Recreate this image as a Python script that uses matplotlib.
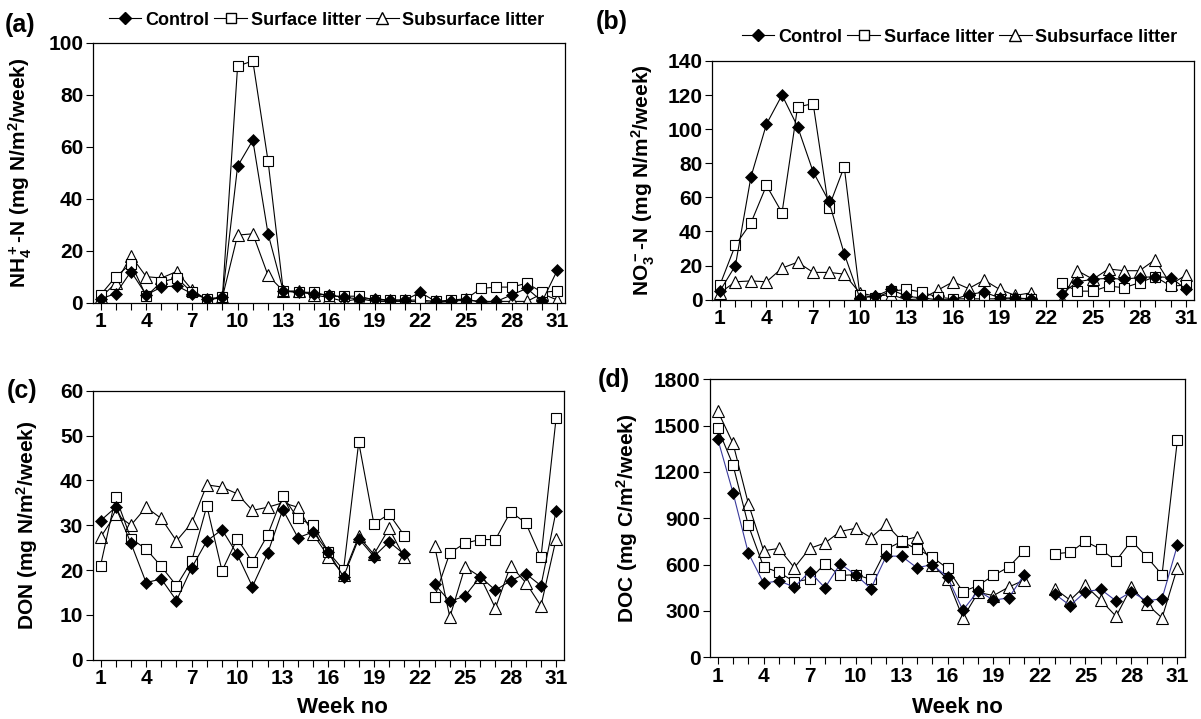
import numpy as np
import matplotlib.pyplot as plt
from matplotlib.lines import Line2D

plt.rcParams['font.family'] = 'Liberation Sans'
plt.rcParams['font.weight'] = 'bold'
plt.rcParams['mathtext.fontset'] = 'custom'
plt.rcParams['mathtext.rm'] = 'Liberation Sans:bold'
plt.rcParams['mathtext.bf'] = 'Liberation Sans:bold'
plt.rcParams['mathtext.default'] = 'bf'

nan = np.nan
weeks = np.arange(1, 32)
week_ticks = np.arange(1, 32, 3)

# (a) NH4+-N
nh4_control = [1.5, 3.5, 12, 3, 6, 6.5, 3.5, 1.5, 2, 52.5, 62.5, 26.5, 4.5, 4, 3.5, 3,
               2, 1.5, 1.5, 1, 1, 4, 0.5, 0.5, 1, 0.5, 0.5, 3, 5.5, 0.5, 12.5]
nh4_surface = [3, 10, 15, 2.5, 8, 9.5, 4, 1.5, 2, 91, 93, 54.5, 4.5, 4, 4, 2.5,
               2.5, 2.5, 1, 1, 1, 1, 0.5, 1, 1.5, 5.5, 6, 6, 7.5, 4, 4.5]
nh4_subsurface = [2, 7.5, 18, 10, 9.5, 12, 5, 1, 2, 26, 26.5, 10.5, 4.5, 4.5, 3, 2,
                  0.5, 1.5, 0.5, 0.5, 0.5, 0.5, 0, 0.5, 1.5, 0, 0.5, 0.5, 0.5, 3.5, 1]

# (b) NO3--N
no3_control = [5, 20, 72, 103, 120, 101.5, 75, 58, 27, 1, 2, 6, 2, 1, 0, 0,
               3, 4.5, 1, 1, 0.5, nan, 3.5, 10.5, 12, 12.5, 12, 13, 13.5, 13, 6]
no3_surface = [8.5, 32, 45, 67, 51, 113, 115, 54, 78, 3, 1, 5, 6, 4.5, 1.5, 0.5,
               0.5, 0.5, 0.5, 0.5, 0.5, nan, 9.5, 5, 5, 8, 7, 10, 13.5, 8, 8.5]
no3_subsurface = [4, 10.5, 11, 10.5, 18.5, 22, 16, 16, 15, 4, 2, 3, 0, 0.5, 5.5, 10.5,
                  6.5, 11.5, 6, 2.5, 4, nan, 0, 17, 12, 18, 17, 17, 23.5, 9, 14.5]

# (c) DON
don_control = [31, 34, 26, 17.2, 18, 13.2, 20.5, 26.5, 29, 23.5, 16.3, 23.7, 33.5, 27.2, 28.5, 24,
               18.5, 27, 23, 26.3, 23.5, nan, 16.8, 13, 14.2, 18.5, 15.5, 17.6, 19.2, 16.5, 33.2]
don_surface = [21, 36.3, 27, 24.7, 20.8, 16.5, 22, 34.3, 19.8, 27, 21.8, 27.8, 36.5, 31.5, 30, 24,
               20, 48.5, 30.3, 32.5, 27.7, nan, 14, 23.8, 26, 26.8, 26.8, 33, 30.5, 22.8, 54]
don_subsurface = [27.3, 32.5, 30, 34, 31.5, 26.5, 30.5, 39, 38.5, 37, 33.3, 34, 35, 34, 28, 23,
                  19, 27.5, 23.5, 29.3, 22.8, nan, 25.3, 9.5, 20.7, 18.5, 11.5, 21, 17.2, 12, 27]

# (d) DOC
doc_control = [1415, 1065, 675, 480, 495, 455, 555, 450, 605, 535, 445, 655, 655, 580, 600, 520,
               305, 430, 370, 385, 535, nan, 410, 335, 425, 440, 365, 425, 365, 380, 725]
doc_surface = [1485, 1245, 855, 585, 550, 490, 505, 605, 530, 535, 505, 700, 750, 700, 650, 575,
               425, 465, 530, 585, 690, nan, 670, 680, 750, 700, 625, 755, 650, 535, 1405]
doc_subsurface = [1595, 1385, 995, 690, 705, 580, 705, 740, 815, 835, 775, 860, 755, 780, 600, 505,
                  255, 420, 400, 455, 500, nan, 445, 370, 465, 370, 265, 455, 345, 255, 580]

series_names = ['Control', 'Surface litter', 'Subsurface litter']


def plot_panel(ax, ctrl, surf, sub, ylim, yticks, ylabel, ctrl_line='black'):
    ax.plot(weeks, sub, color='black', lw=0.8, marker='^', ms=9, mfc='white', mec='black', mew=0.8)
    ax.plot(weeks, surf, color='black', lw=0.8, marker='s', ms=7.5, mfc='white', mec='black', mew=0.8)
    ax.plot(weeks, ctrl, color=ctrl_line, lw=0.8, marker='D', ms=6, mfc='black', mec='black', mew=0.5)
    ax.set_xlim(0.5, 31.5)
    ax.set_ylim(*ylim)
    ax.set_yticks(yticks)
    ax.set_xticks(week_ticks)
    ax.set_xticks(weeks, minor=True)
    ax.tick_params(which='both', direction='out', length=5, width=0.8, labelsize=15, pad=2)
    ax.set_ylabel(ylabel, fontsize=15, fontweight='bold')
    for s in ax.spines.values():
        s.set_linewidth(0.9)


fig = plt.figure(figsize=(12.01, 7.19), dpi=100)
ax_a = fig.add_axes([0.0774, 0.579, 0.393, 0.3616])
ax_b = fig.add_axes([0.5929, 0.5832, 0.4013, 0.332])
ax_c = fig.add_axes([0.0774, 0.0825, 0.392, 0.3741])
ax_d = fig.add_axes([0.5912, 0.0858, 0.3955, 0.3867])

plot_panel(ax_a, nh4_control, nh4_surface, nh4_subsurface, (0, 100), range(0, 101, 20),
           'NH$_4^+$-N (mg N/m$^2$/week)')
plot_panel(ax_b, no3_control, no3_surface, no3_subsurface, (0, 140), range(0, 141, 20),
           'NO$_3^-$-N (mg N/m$^2$/week)')
plot_panel(ax_c, don_control, don_surface, don_subsurface, (0, 60), range(0, 61, 10),
           'DON (mg N/m$^2$/week)')
plot_panel(ax_d, doc_control, doc_surface, doc_subsurface, (0, 1800), range(0, 1801, 300),
           'DOC (mg C/m$^2$/week)', ctrl_line='#3a3a9c')

ax_a.yaxis.set_label_coords(-0.125, 0.5)
ax_b.yaxis.set_label_coords(-0.114, 0.5)
ax_c.yaxis.set_label_coords(-0.113, 0.5)
ax_d.yaxis.set_label_coords(-0.147, 0.5)

for ax in (ax_c, ax_d):
    ax.set_xlabel('Week no', fontsize=16, fontweight='bold')
ax_c.xaxis.set_label_coords(0.53, -0.14)
ax_d.xaxis.set_label_coords(0.52, -0.143)

fig.text(0.004, 0.965, '(a)', fontsize=18, fontweight='bold', va='center')
fig.text(0.496, 0.969, '(b)', fontsize=18, fontweight='bold', va='center')
fig.text(0.006, 0.456, '(c)', fontsize=18, fontweight='bold', va='center')
fig.text(0.498, 0.471, '(d)', fontsize=18, fontweight='bold', va='center')

handles = [
    Line2D([], [], color='black', lw=0.8, marker='D', ms=6, mfc='black', mec='black'),
    Line2D([], [], color='black', lw=0.8, marker='s', ms=7.5, mfc='white', mec='black'),
    Line2D([], [], color='black', lw=0.8, marker='^', ms=9, mfc='white', mec='black'),
]
for loc in [(0.272, 0.972), (0.799, 0.9485)]:
    fig.legend(handles, series_names, loc='center', bbox_to_anchor=loc, ncol=3, frameon=False,
               fontsize=13, handlelength=1.8, handletextpad=0.2, columnspacing=0.3,
               borderpad=0, borderaxespad=0)

fig.savefig('out.png', dpi=100)
